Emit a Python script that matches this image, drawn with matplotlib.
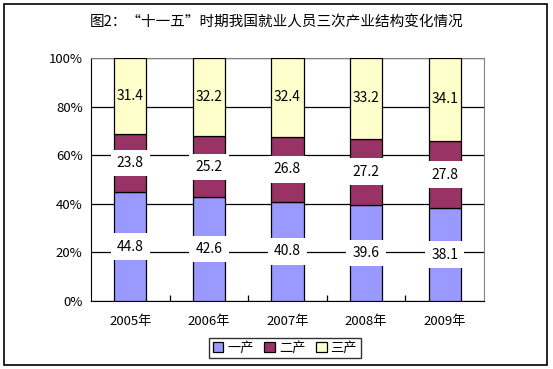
import matplotlib
matplotlib.use("Agg")
import matplotlib.pyplot as plt
from matplotlib.patches import Rectangle
import numpy as np

plt.rcParams['font.family'] = ['Noto Sans CJK SC', 'DejaVu Sans']

years = ["2005年", "2006年", "2007年", "2008年", "2009年"]
primary = [44.8, 42.6, 40.8, 39.6, 38.1]
secondary = [23.8, 25.2, 26.8, 27.2, 27.8]
tertiary = [31.4, 32.2, 32.4, 33.2, 34.1]
series_names = ["一产", "二产", "三产"]
colors = ["#9999FF", "#993366", "#FFFFCC"]
title = "图2：“十一五”时期我国就业人员三次产业结构变化情况"

W, H = 553, 369
fig = plt.figure(figsize=(W/100, H/100), dpi=100)
fig.patches.append(Rectangle((4/W, 4/H), (547-4)/W, (365-4)/H, transform=fig.transFigure,
                             fill=False, edgecolor='black', linewidth=1.2))
ax = fig.add_axes([91/W, 1-301/H, (484-91)/W, (301-58)/H])

x = np.arange(len(years))
bottom = np.zeros(len(years))
data = [primary, secondary, tertiary]
for vals, c, name in zip(data, colors, series_names):
    vals = np.array(vals)
    ax.bar(x, vals, width=0.41, bottom=bottom, color=c, edgecolor='black', linewidth=0.9,
           label=name, zorder=3)
    for xi, b, v in zip(x, bottom, vals):
        box = None if c == "#FFFFCC" else dict(facecolor='white', edgecolor='none', pad=4.5)
        ax.text(xi, b + v/2, f"{v:.1f}", ha='center', va='center', fontsize=10, zorder=5, bbox=box)
    bottom += vals

ax.set_xlim(-0.5, len(years)-0.5)
ax.set_ylim(0, 100)
ax.set_yticks(np.arange(0, 101, 20))
ax.set_yticklabels([f"{v}%" for v in range(0, 101, 20)], fontsize=9.5)
ax.set_xticks(x)
ax.set_xticklabels(years, fontsize=9.5)
ax.tick_params(axis='x', which='major', length=0, pad=10)
ax.tick_params(axis='y', length=0, pad=6)
ax.set_xticks(np.arange(0.5, len(years)-1, 1), minor=True)
ax.tick_params(axis='x', which='minor', direction='in', length=4, width=0.9, color='black')
ax.yaxis.grid(True, color='black', linewidth=0.9, zorder=0)
ax.set_axisbelow(True)
for s in ['top', 'right']:
    ax.spines[s].set_color('#808080')
for s in ['left', 'bottom']:
    ax.spines[s].set_color('black')

fig.text(0.5, 1-22/H, title, ha='center', va='center', fontsize=10.5)

leg = fig.legend(loc='center', bbox_to_anchor=(285/W, 1-348/H), ncol=3, fontsize=9.5,
                 frameon=True, fancybox=False, edgecolor='black', handlelength=0.8,
                 handleheight=0.8, handletextpad=0.3, columnspacing=0.8, borderpad=0.3)
leg.get_frame().set_linewidth(1.0)

fig.savefig("out.png", dpi=100)
